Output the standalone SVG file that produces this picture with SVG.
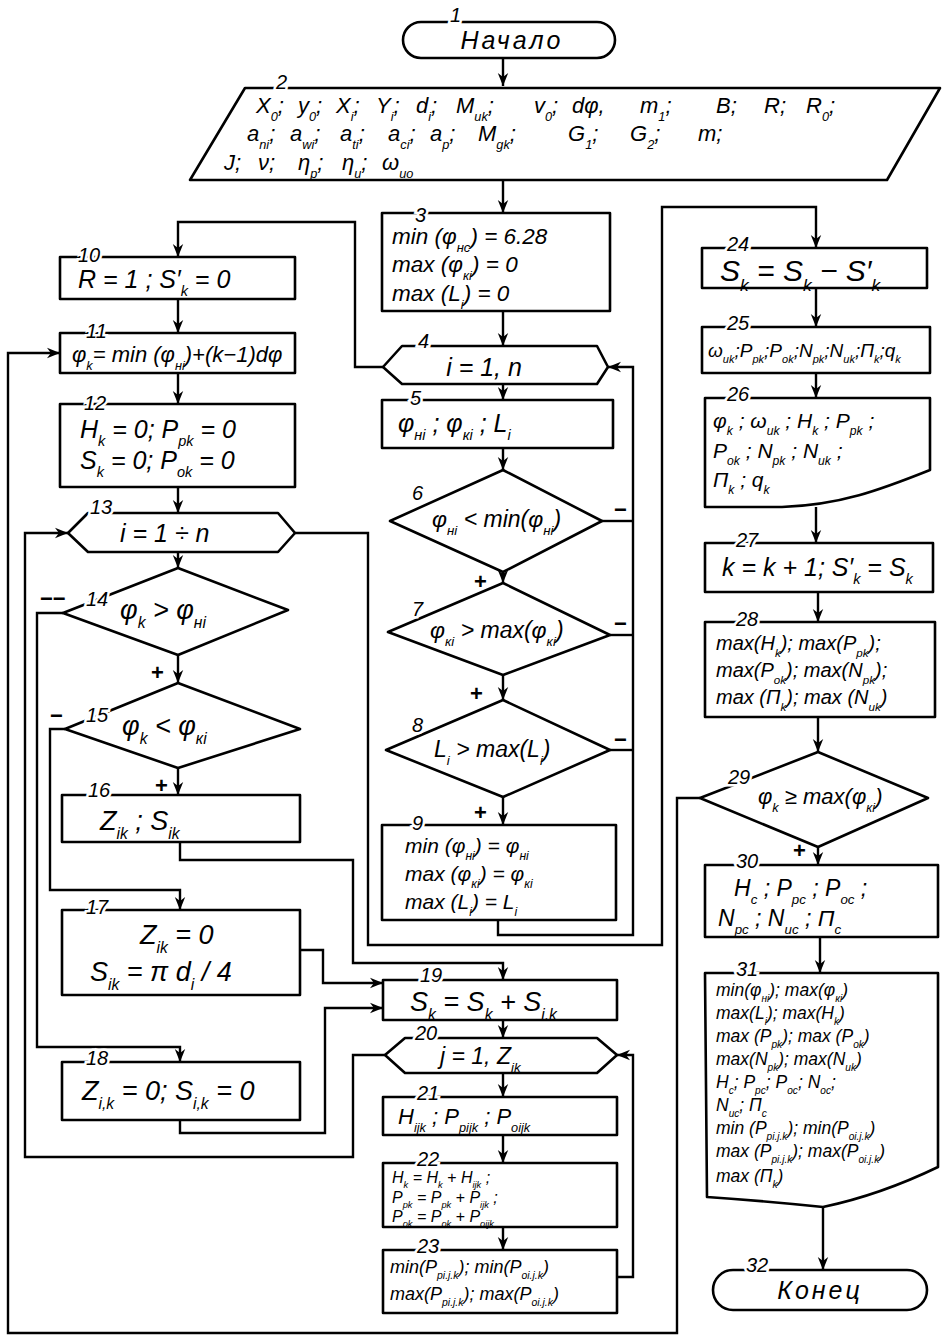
<svg xmlns="http://www.w3.org/2000/svg" width="943" height="1339" viewBox="0 0 943 1339">
<style>
.sh{fill:#fff;stroke:#000;stroke-width:2.6;stroke-linejoin:round}
.c{fill:none;stroke:#000;stroke-width:2.4;stroke-linejoin:miter}
.t{font-family:"Liberation Sans","DejaVu Sans",sans-serif;font-style:italic;fill:#000}
.n{font-family:"Liberation Sans","DejaVu Sans",sans-serif;font-style:italic;font-size:20px;fill:#000;paint-order:stroke;stroke:#fff;stroke-width:5px}
.pm{font-family:"Liberation Sans","DejaVu Sans",sans-serif;font-weight:bold;font-size:22px;fill:#000}
.s{font-size:58%;baseline-shift:sub}
</style>
<defs>
<marker id="ah" viewBox="0 0 10 10" refX="10" refY="5" markerWidth="13" markerHeight="13" orient="auto" markerUnits="userSpaceOnUse"><path d="M0,1 L10,5 L0,9 L3,5z" fill="#000"/></marker>
</defs>
<rect width="943" height="1339" fill="#fff"/>

<g id="connectors">
<path class="c" d="M503,58V86" marker-end="url(#ah)"/>
<path class="c" d="M503,180V213" marker-end="url(#ah)"/>
<path class="c" d="M503,311V346" marker-end="url(#ah)"/>
<path class="c" d="M383,367H355V222H178V257" marker-end="url(#ah)"/>
<path class="c" d="M503,384V400" marker-end="url(#ah)"/>
<path class="c" d="M503,448V470" marker-end="url(#ah)"/>
<path class="c" d="M503,572V583" marker-end="url(#ah)"/>
<path class="c" d="M503,675V700" marker-end="url(#ah)"/>
<path class="c" d="M503,797V825" marker-end="url(#ah)"/>
<path class="c" d="M602,521H633"/>
<path class="c" d="M610,635H633"/>
<path class="c" d="M610,750H633"/>
<path class="c" d="M498,920V935H633V367H608" marker-end="url(#ah)"/>
<path class="c" d="M178,299V333" marker-end="url(#ah)"/>
<path class="c" d="M178,373V404" marker-end="url(#ah)"/>
<path class="c" d="M178,487V513" marker-end="url(#ah)"/>
<path class="c" d="M178,552V568" marker-end="url(#ah)"/>
<path class="c" d="M178,655V683" marker-end="url(#ah)"/>
<path class="c" d="M178,768V795" marker-end="url(#ah)"/>
<path class="c" d="M63,613H37V1047H180V1062" marker-end="url(#ah)"/>
<path class="c" d="M65,729H50V890H180V910" marker-end="url(#ah)"/>
<path class="c" d="M180,842V860H353V963H503V980" marker-end="url(#ah)"/>
<path class="c" d="M300,950H323V983H383" marker-end="url(#ah)"/>
<path class="c" d="M180,1120V1133H325V1008H383" marker-end="url(#ah)"/>
<path class="c" d="M503,1020V1038" marker-end="url(#ah)"/>
<path class="c" d="M503,1073V1097" marker-end="url(#ah)"/>
<path class="c" d="M503,1135V1163" marker-end="url(#ah)"/>
<path class="c" d="M503,1227V1250" marker-end="url(#ah)"/>
<path class="c" d="M617,1277H633V1055H617" marker-end="url(#ah)"/>
<path class="c" d="M385,1055H353V1157H25V533H68" marker-end="url(#ah)"/>
<path class="c" d="M295,533H368V945H662V207H816V248" marker-end="url(#ah)"/>
<path class="c" d="M816,288V327" marker-end="url(#ah)"/>
<path class="c" d="M816,373V398" marker-end="url(#ah)"/>
<path class="c" d="M816,507V543" marker-end="url(#ah)"/>
<path class="c" d="M818,592V622" marker-end="url(#ah)"/>
<path class="c" d="M818,717V752" marker-end="url(#ah)"/>
<path class="c" d="M818,847V865" marker-end="url(#ah)"/>
<path class="c" d="M700,798H677V1333H8V353H60" marker-end="url(#ah)"/>
<path class="c" d="M820,937V973" marker-end="url(#ah)"/>
<path class="c" d="M823,1207V1270" marker-end="url(#ah)"/>
<text class="pm" x="474" y="589">+</text>
<text class="pm" x="470" y="701">+</text>
<text class="pm" x="474" y="820">+</text>
<text class="pm" x="151" y="680">+</text>
<text class="pm" x="155" y="793">+</text>
<text class="pm" x="793" y="858">+</text>
<text class="pm" x="40" y="606">−−</text>
<text class="pm" x="50" y="723">−</text>
<text class="pm" x="614" y="517">−</text>
<text class="pm" x="614" y="631">−</text>
<text class="pm" x="614" y="747">−</text>
</g>

<g id="node1">
<rect class="sh" x="403" y="22" width="212" height="36" rx="18"/>
<text class="t" x="512" y="49" font-size="25" text-anchor="middle" letter-spacing="3">Начало</text>
<text class="n" x="450" y="22">1</text>
</g>

<g id="node2">
<polygon class="sh" points="245,88 940,88 887,180 190,180"/>
<text class="n" x="276" y="89">2</text>
<text class="t" y="113" font-size="22">
<tspan x="256">X<tspan class="s">0</tspan>;</tspan>
<tspan x="298">y<tspan class="s">0</tspan>;</tspan>
<tspan x="336">X<tspan class="s">i</tspan>;</tspan>
<tspan x="376">Y<tspan class="s">i</tspan>;</tspan>
<tspan x="416">d<tspan class="s">i</tspan>;</tspan>
<tspan x="456">M<tspan class="s">uk</tspan>;</tspan>
<tspan x="534">v<tspan class="s">0</tspan>;</tspan>
<tspan x="572">dφ,</tspan>
<tspan x="640">m<tspan class="s">1</tspan>;</tspan>
<tspan x="716">B;</tspan>
<tspan x="764">R;</tspan>
<tspan x="806">R<tspan class="s">0</tspan>;</tspan>
</text>
<text class="t" y="141" font-size="22">
<tspan x="247">a<tspan class="s">ni</tspan>;</tspan>
<tspan x="290">a<tspan class="s">wi</tspan>;</tspan>
<tspan x="340">a<tspan class="s">ti</tspan>;</tspan>
<tspan x="388">a<tspan class="s">ci</tspan>;</tspan>
<tspan x="430">a<tspan class="s">p</tspan>;</tspan>
<tspan x="478">M<tspan class="s">gk</tspan>;</tspan>
<tspan x="568">G<tspan class="s">1</tspan>;</tspan>
<tspan x="630">G<tspan class="s">2</tspan>;</tspan>
<tspan x="698">m;</tspan>
</text>
<text class="t" y="170" font-size="22">
<tspan x="224">J;</tspan>
<tspan x="258">ν;</tspan>
<tspan x="298">η<tspan class="s">p</tspan>;</tspan>
<tspan x="342">η<tspan class="s">u</tspan>;</tspan>
<tspan x="382">ω<tspan class="s">uo</tspan></tspan>
</text>
</g>

<g id="node3">
<rect class="sh" x="382" y="213" width="228" height="98"/>
<text class="n" x="415" y="222">3</text>
<text class="t" x="392" y="244" font-size="22.5">min (φ<tspan class="s">нc</tspan>) = 6.28</text>
<text class="t" x="392" y="272" font-size="22.5">max (φ<tspan class="s">кi</tspan>) = 0</text>
<text class="t" x="392" y="301" font-size="22.5">max (L<tspan class="s">i</tspan>) = 0</text>
</g>

<g id="node4">
<polygon class="sh" points="383,367 402,346 597,346 608,367 597,384 402,384"/>
<text class="n" x="418" y="348">4</text>
<text class="t" x="484" y="376" font-size="25" text-anchor="middle">i = 1, n</text>
</g>

<g id="node5">
<rect class="sh" x="382" y="400" width="231" height="48"/>
<text class="n" x="410" y="405">5</text>
<text class="t" x="398" y="432" font-size="25">φ<tspan class="s">нi</tspan> ;  φ<tspan class="s">кi</tspan> ;  L<tspan class="s">i</tspan></text>
</g>

<g id="node6">
<polygon class="sh" points="503,470 602,521 503,572 390,521"/>
<text class="n" x="412" y="500">6</text>
<text class="t" x="432" y="527" font-size="23">φ<tspan class="s">нi</tspan> &lt; min(φ<tspan class="s">нi</tspan>)</text>
</g>

<g id="node7">
<polygon class="sh" points="503,583 610,635 503,675 388,632"/>
<text class="n" x="412" y="616">7</text>
<text class="t" x="430" y="638" font-size="23">φ<tspan class="s">кi</tspan> &gt; max(φ<tspan class="s">кi</tspan>)</text>
</g>

<g id="node8">
<polygon class="sh" points="503,700 610,750 503,797 386,750"/>
<text class="n" x="412" y="732">8</text>
<text class="t" x="434" y="757" font-size="23">L<tspan class="s">i</tspan> &gt; max(L<tspan class="s">i</tspan>)</text>
</g>

<g id="node9">
<rect class="sh" x="382" y="825" width="234" height="95"/>
<text class="n" x="412" y="830">9</text>
<text class="t" x="405" y="853" font-size="21">min (φ<tspan class="s">нi</tspan>) = φ<tspan class="s">нi</tspan></text>
<text class="t" x="405" y="881" font-size="21">max (φ<tspan class="s">кi</tspan>) = φ<tspan class="s">кi</tspan></text>
<text class="t" x="405" y="909" font-size="21">max (L<tspan class="s">i</tspan>) = L<tspan class="s">i</tspan></text>
</g>

<g id="node10">
<rect class="sh" x="60" y="257" width="235" height="42"/>
<text class="n" x="78" y="262">10</text>
<text class="t" x="78" y="288" font-size="25">R = 1 ;  S′<tspan class="s">k</tspan> = 0</text>
</g>

<g id="node11">
<rect class="sh" x="60" y="333" width="235" height="40"/>
<text class="n" x="86" y="338">11</text>
<text class="t" x="72" y="362" font-size="22">φ<tspan class="s">k</tspan>= min (φ<tspan class="s">нi</tspan>)+(k−1)dφ</text>
</g>

<g id="node12">
<rect class="sh" x="60" y="404" width="235" height="83"/>
<text class="n" x="84" y="410">12</text>
<text class="t" x="80" y="438" font-size="25">H<tspan class="s">k</tspan> = 0;  P<tspan class="s">pk</tspan> = 0</text>
<text class="t" x="80" y="469" font-size="25">S<tspan class="s">k</tspan> = 0;  P<tspan class="s">ok</tspan> = 0</text>
</g>

<g id="node13">
<polygon class="sh" points="68,533 88,513 278,513 295,533 278,552 88,552"/>
<text class="n" x="90" y="514">13</text>
<text class="t" x="120" y="542" font-size="25">i = 1 ÷ n</text>
</g>

<g id="node14">
<polygon class="sh" points="178,568 288,610 178,655 63,613"/>
<text class="n" x="86" y="606">14</text>
<text class="t" x="120" y="619" font-size="27">φ<tspan class="s">k</tspan> &gt; φ<tspan class="s">нi</tspan></text>
</g>

<g id="node15">
<polygon class="sh" points="178,683 300,729 178,768 65,729"/>
<text class="n" x="86" y="722">15</text>
<text class="t" x="122" y="735" font-size="27">φ<tspan class="s">k</tspan> &lt; φ<tspan class="s">кi</tspan></text>
</g>

<g id="node16">
<rect class="sh" x="62" y="795" width="238" height="47"/>
<text class="n" x="88" y="797">16</text>
<text class="t" x="100" y="830" font-size="27">Z<tspan class="s">ik</tspan>   ;   S<tspan class="s">ik</tspan></text>
</g>

<g id="node17">
<rect class="sh" x="62" y="910" width="238" height="85"/>
<text class="n" x="86" y="914">17</text>
<text class="t" x="140" y="944" font-size="27">Z<tspan class="s">ik</tspan> = 0</text>
<text class="t" x="90" y="981" font-size="27">S<tspan class="s">ik</tspan> = π d<tspan class="s">i</tspan> / 4</text>
</g>

<g id="node18">
<rect class="sh" x="62" y="1062" width="238" height="58"/>
<text class="n" x="86" y="1065">18</text>
<text class="t" x="82" y="1100" font-size="27">Z<tspan class="s">i,k</tspan> = 0;  S<tspan class="s">i,k</tspan> = 0</text>
</g>

<g id="node19">
<rect class="sh" x="383" y="980" width="234" height="40"/>
<text class="n" x="420" y="982">19</text>
<text class="t" x="410" y="1011" font-size="27">S<tspan class="s">k</tspan>  = S<tspan class="s">k</tspan>  + S<tspan class="s">i.k</tspan></text>
</g>

<g id="node20">
<polygon class="sh" points="385,1055 405,1038 597,1038 617,1055 597,1073 405,1073"/>
<text class="n" x="415" y="1040">20</text>
<text class="t" x="440" y="1064" font-size="23">j = 1, Z<tspan class="s">ik</tspan></text>
</g>

<g id="node21">
<rect class="sh" x="383" y="1097" width="234" height="38"/>
<text class="n" x="417" y="1100">21</text>
<text class="t" x="398" y="1124" font-size="22">H<tspan class="s">ijk</tspan> ; P<tspan class="s">pijk</tspan> ; P<tspan class="s">oijk</tspan></text>
</g>

<g id="node22">
<rect class="sh" x="383" y="1163" width="234" height="64"/>
<text class="n" x="417" y="1166">22</text>
<text class="t" x="392" y="1183" font-size="16">H<tspan class="s">k</tspan> = H<tspan class="s">k</tspan> + H<tspan class="s">ijk</tspan> ;</text>
<text class="t" x="392" y="1203" font-size="16">P<tspan class="s">pk</tspan> = P<tspan class="s">pk</tspan> + P<tspan class="s">ijk</tspan> ;</text>
<text class="t" x="392" y="1222" font-size="16">P<tspan class="s">ok</tspan> = P<tspan class="s">ok</tspan> + P<tspan class="s">oijk</tspan></text>
</g>

<g id="node23">
<rect class="sh" x="383" y="1250" width="234" height="63"/>
<text class="n" x="417" y="1253">23</text>
<text class="t" x="390" y="1273" font-size="18">min(P<tspan class="s">pi.j.k</tspan>); min(P<tspan class="s">oi.j.k</tspan>)</text>
<text class="t" x="390" y="1300" font-size="18">max(P<tspan class="s">pi.j.k</tspan>); max(P<tspan class="s">oi.j.k</tspan>)</text>
</g>

<g id="node24">
<rect class="sh" x="702" y="248" width="225" height="40"/>
<text class="n" x="727" y="251">24</text>
<text class="t" x="720" y="281" font-size="30">S<tspan class="s">k</tspan> = S<tspan class="s">k</tspan> − S′<tspan class="s">k</tspan></text>
</g>

<g id="node25">
<rect class="sh" x="702" y="327" width="228" height="46"/>
<text class="n" x="727" y="330">25</text>
<text class="t" x="708" y="357" font-size="19">ω<tspan class="s">uk</tspan>;P<tspan class="s">pk</tspan>;P<tspan class="s">ok</tspan>;N<tspan class="s">pk</tspan>;N<tspan class="s">uk</tspan>;Π<tspan class="s">k</tspan>;q<tspan class="s">k</tspan></text>
</g>

<g id="node26">
<path class="sh" d="M705,398H930V470C880,490 840,505 782,507H705Z"/>
<text class="n" x="727" y="401">26</text>
<text class="t" x="713" y="428" font-size="21">φ<tspan class="s">k</tspan> ; ω<tspan class="s">uk</tspan> ;  H<tspan class="s">k</tspan> ;  P<tspan class="s">pk</tspan>  ;</text>
<text class="t" x="713" y="458" font-size="21">P<tspan class="s">ok</tspan> ; N<tspan class="s">pk</tspan> ;  N<tspan class="s">uk</tspan> ;</text>
<text class="t" x="713" y="487" font-size="21">Π<tspan class="s">k</tspan> ;  q<tspan class="s">k</tspan></text>
</g>

<g id="node27">
<rect class="sh" x="705" y="543" width="228" height="49"/>
<text class="n" x="736" y="547">27</text>
<text class="t" x="722" y="576" font-size="25">k = k + 1; S′<tspan class="s">k</tspan> = S<tspan class="s">k</tspan></text>
</g>

<g id="node28">
<rect class="sh" x="705" y="622" width="230" height="95"/>
<text class="n" x="736" y="626">28</text>
<text class="t" x="716" y="650" font-size="20">max(H<tspan class="s">k</tspan>); max(P<tspan class="s">pk</tspan>);</text>
<text class="t" x="716" y="677" font-size="20">max(P<tspan class="s">ok</tspan>); max(N<tspan class="s">pk</tspan>);</text>
<text class="t" x="716" y="704" font-size="20">max (Π<tspan class="s">k</tspan>); max (N<tspan class="s">uk</tspan>)</text>
</g>

<g id="node29">
<polygon class="sh" points="818,752 928,798 818,847 700,798"/>
<text class="n" x="728" y="784">29</text>
<text class="t" x="758" y="804" font-size="22">φ<tspan class="s">k</tspan> ≥ max(φ<tspan class="s">кi</tspan>)</text>
</g>

<g id="node30">
<rect class="sh" x="705" y="865" width="233" height="72"/>
<text class="n" x="736" y="868">30</text>
<text class="t" x="734" y="896" font-size="23">H<tspan class="s">c</tspan>  ;  P<tspan class="s">pc</tspan>  ;  P<tspan class="s">oc</tspan>  ;</text>
<text class="t" x="718" y="926" font-size="23">N<tspan class="s">pc</tspan> ;  N<tspan class="s">uc</tspan> ;  Π<tspan class="s">c</tspan></text>
</g>

<g id="node31">
<path class="sh" d="M705,973H938V1167Q880,1195 823,1207Q765,1201 707,1197Z"/>
<text class="n" x="736" y="976">31</text>
<g class="t" font-size="17.5">
<text x="716" y="996">min(φ<tspan class="s">нi</tspan>); max(φ<tspan class="s">кi</tspan>)</text>
<text x="716" y="1019">max(L<tspan class="s">i</tspan>); max(H<tspan class="s">k</tspan>)</text>
<text x="716" y="1042">max (P<tspan class="s">pk</tspan>); max (P<tspan class="s">ok</tspan>)</text>
<text x="716" y="1065">max(N<tspan class="s">pk</tspan>); max(N<tspan class="s">uk</tspan>)</text>
<text x="716" y="1088">H<tspan class="s">c</tspan>; P<tspan class="s">pc</tspan>; P<tspan class="s">oc</tspan>; N<tspan class="s">oc</tspan>;</text>
<text x="716" y="1111">N<tspan class="s">uc</tspan>; Π<tspan class="s">c</tspan></text>
<text x="716" y="1134">min (P<tspan class="s">pi.j.k</tspan>); min(P<tspan class="s">oi.j.k</tspan>)</text>
<text x="716" y="1157">max (P<tspan class="s">pi.j.k</tspan>); max(P<tspan class="s">oi.j.k</tspan>)</text>
<text x="716" y="1182">max (Π<tspan class="s">k</tspan>)</text>
</g>
</g>

<g id="node32">
<rect class="sh" x="713" y="1270" width="214" height="40" rx="20"/>
<text class="n" x="746" y="1272">32</text>
<text class="t" x="820" y="1299" font-size="25" text-anchor="middle" letter-spacing="3">Конец</text>
</g>
</svg>
